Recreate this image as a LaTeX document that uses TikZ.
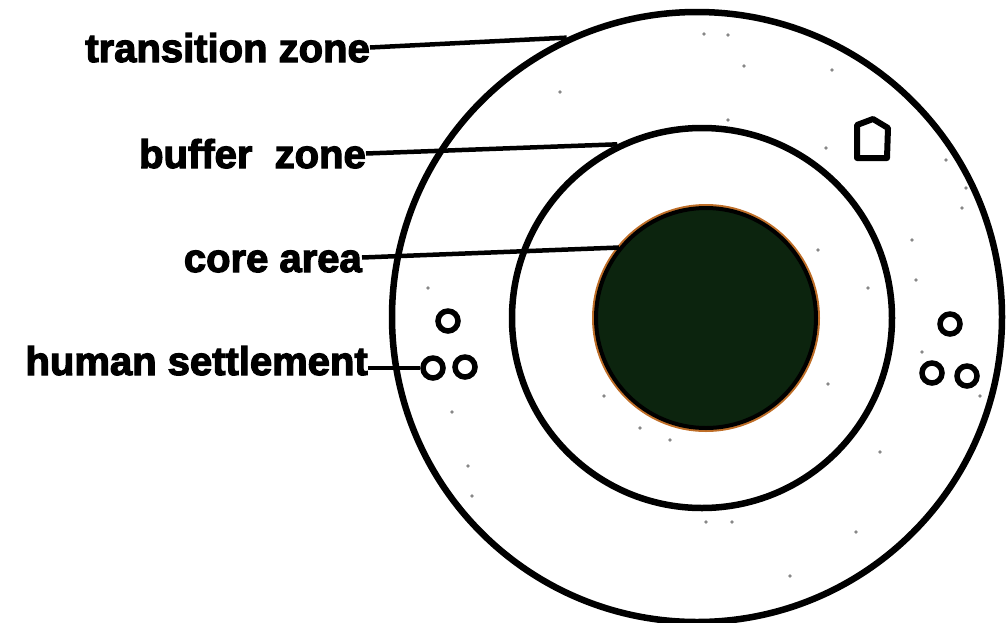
\documentclass[tikz,border=0pt]{standalone}
\usepackage{fontspec}
\setmainfont{Liberation Sans}[BoldFeatures={FakeBold=3}]
\usetikzlibrary{positioning}
\definecolor{coregreen}{RGB}{12,36,14}
\definecolor{corehalo}{RGB}{190,110,40}
\definecolor{speck}{RGB}{135,135,135}

\begin{document}
\begin{tikzpicture}[x=1pt,y=-1pt,
  zone/.style={circle,draw,line width=6.5pt,inner sep=0pt},
  zonelabel/.style={anchor=base east,inner sep=0pt,text height=29pt,text depth=0pt,
    font=\fontsize{40}{48}\selectfont\bfseries},
  leader/.style={line width=4.5pt},
  settlement/.style={circle,draw,line width=5.5pt,inner sep=0pt,minimum size=20pt}]
\useasboundingbox (0,0) rectangle (1007,622);
% zones
\node[zone,minimum size=610pt] (transition) at (697,317) {};
\node[zone,minimum size=380pt] (buffer) at (702,318) {};
\fill[corehalo] (706,318) circle (114);
\node[zone,line width=4pt,fill=coregreen,minimum size=220pt] (core) at (706,318) {};
% stipple
\foreach \p in {(728,35),(704,34),(744,66),(832,70),(560,92),(728,120),(826,148),
  (946,160),(966,188),(962,208),(912,240),(818,250),(868,288),(916,280),(428,288),
  (922,352),(604,396),(640,428),(670,440),(828,384),(880,452),(452,412),(468,466),
  (980,396),(856,532),(732,522),(706,522),(790,576),(472,496)}
  \fill[speck] \p circle (1.8);
% human settlements
\node[settlement] (setL1) at (448,321) {};
\node[settlement] (setL2) at (433,368) {};
\node[settlement] (setL3) at (465,367) {};
\node[settlement] (setR1) at (950,324) {};
\node[settlement] (setR2) at (932,373) {};
\node[settlement] (setR3) at (967,376) {};
\draw[line width=6pt,line join=round] (857,125) -- (873,119) -- (888,128) -- (887,158) -- (857,158) -- cycle;
% labels
\node[zonelabel] (transitionlbl) at (370,62) {transition zone};
\node[zonelabel] (bufferlbl) at (366,168) {buffer\ \ zone};
\node[zonelabel] (corelbl) at (362,272) {core area};
\node[zonelabel] (settlelbl) at (368,375) {human settlement};
\draw[leader] (transitionlbl.east) -- (transition.115);
\draw[leader] (bufferlbl.east) -- (buffer.116);
\draw[leader] (corelbl.east) -- (core.141);
\draw[leader] (settlelbl.east |- setL2) -- (setL2.west);
\end{tikzpicture}
\end{document}
